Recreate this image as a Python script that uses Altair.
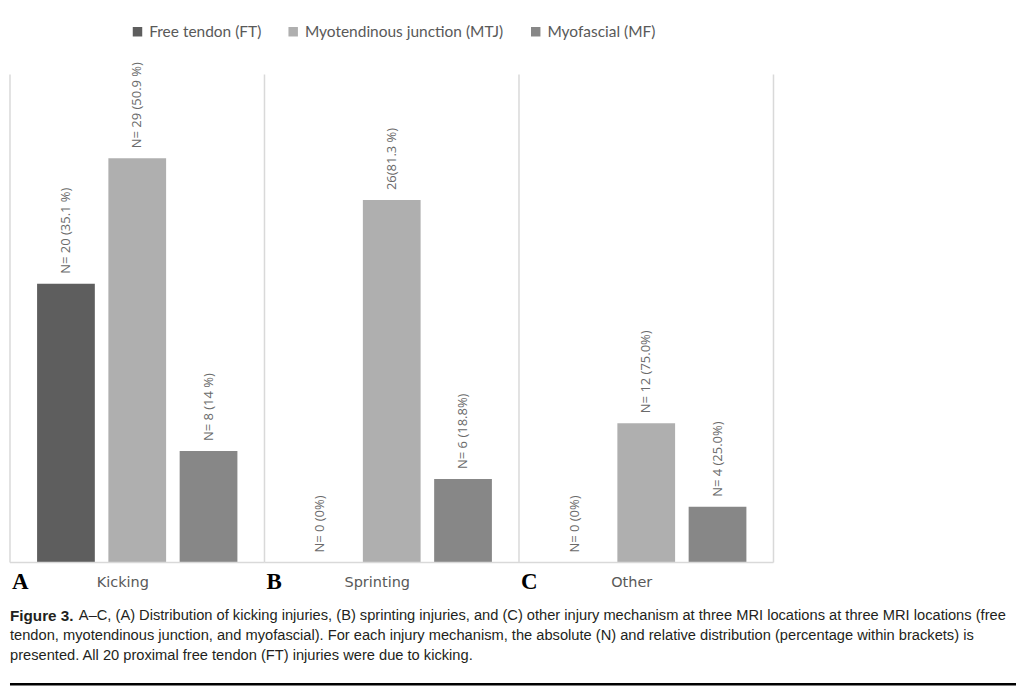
import altair as alt
import pandas as pd

mechanisms = ["Kicking", "Sprinting", "Other"]
panel_letters = ["A", "B", "C"]
locations = ["Free tendon (FT)", "Myotendinous junction (MTJ)", "Myofascial (MF)"]
loc_colors = ["#5e5e5e", "#afafaf", "#878787"]

# bar heights as drawn, one list per mechanism (FT, MTJ, MF)
kicking_n = [20, 29, 8]
sprinting_n = [0, 26, 6]
other_n = [0, 10, 4]

kicking_lbl = ["N= 20 (35.1 %)", "N= 29 (50.9 %)", "N= 8 (14 %)"]
sprinting_lbl = ["N= 0 (0%)", "26(81.3 %)", "N= 6 (18.8%)"]
other_lbl = ["N= 0 (0%)", "N= 12 (75.0%)", "N= 4 (25.0%)"]

caption_bold = "Figure 3."
caption_first = ("A\u2013C, (A) Distribution of kicking injuries, (B) sprinting injuries, and (C) other "
                 "injury mechanism at three MRI locations at three MRI locations (free")
caption_rest = [
    "tendon, myotendinous junction, and myofascial). For each injury mechanism, the absolute (N) "
    "and relative distribution (percentage within brackets) is",
    "presented. All 20 proximal free tendon (FT) injuries were due to kicking.",
]

W = 255
H = 489
GRID = "#d9d9d9"
TXT = "#595959"
CAP = 14.7

rows = []
for mech, letter, vals, lbls in zip(
    mechanisms, panel_letters,
    [kicking_n, sprinting_n, other_n],
    [kicking_lbl, sprinting_lbl, other_lbl],
):
    for loc, v, l in zip(locations, vals, lbls):
        rows.append({"mechanism": mech, "letter": letter, "location": loc, "n": v, "label": l})
df = pd.DataFrame(rows)

x_enc = alt.X("location:N", sort=locations, axis=None,
              scale=alt.Scale(paddingInner=0.19, paddingOuter=0.38))
y_enc = alt.Y("n:Q", axis=None, scale=alt.Scale(domain=[0, 35], nice=False))

base = alt.Chart()

bars = base.mark_bar().encode(
    x=x_enc,
    y=y_enc,
    color=alt.Color(
        "location:N",
        sort=locations,
        scale=alt.Scale(domain=locations, range=loc_colors),
        legend=alt.Legend(
            title=None, orient="none", direction="horizontal", columns=3,
            legendX=120, legendY=-51, padding=0,
            symbolType="square", symbolSize=90, symbolStrokeWidth=0,
            labelFont="Lato", labelFontSize=15.5, labelColor=TXT,
            columnPadding=24, labelOffset=4, labelLimit=400,
        ),
    ),
)

values = base.mark_text(
    angle=270, align="left", baseline="middle", dx=10,
    font="Open Sans", fontSize=13, color="#6a6a6a",
).encode(x=x_enc, y=y_enc, text="label:N")

first = base.transform_filter(alt.datum.location == locations[0])

left_rule = first.mark_rule(color=GRID, strokeWidth=1.5).encode(
    x=alt.value(0), y=alt.value(0), y2=alt.value(H))
bottom_rule = first.mark_rule(color=GRID, strokeWidth=1.5).encode(
    x=alt.value(0), x2=alt.value(W), y=alt.value(H))
right_rule = first.transform_filter(alt.datum.mechanism == "Other").mark_rule(
    color=GRID, strokeWidth=1.5).encode(x=alt.value(W), y=alt.value(0), y2=alt.value(H))

letter_txt = first.mark_text(
    align="left", baseline="middle", font="Liberation Serif", fontWeight="bold",
    fontSize=23, color="#000000",
).encode(x=alt.value(2), y=alt.value(H + 19), text="letter:N")

mech_txt = first.mark_text(
    align="center", baseline="middle", font="DejaVu Sans", fontSize=14.5, color=TXT,
).encode(x=alt.value(113), y=alt.value(H + 20), text="mechanism:N")

cap = first.transform_filter(alt.datum.mechanism == "Kicking")
cap_bold = cap.mark_text(
    align="left", baseline="middle", font="Liberation Sans", fontWeight="bold",
    fontSize=15.3, color="#231f20", text=caption_bold,
).encode(x=alt.value(0), y=alt.value(H + 54))
cap_first = cap.mark_text(
    align="left", baseline="middle", font="Liberation Sans",
    fontSize=CAP, color="#231f20", text=caption_first,
).encode(x=alt.value(69), y=alt.value(H + 54))
cap_rest = cap.mark_text(
    align="left", baseline="middle", font="Liberation Sans", lineHeight=20,
    fontSize=CAP, color="#231f20", text=caption_rest,
).encode(x=alt.value(0), y=alt.value(H + 74))
cap_line = cap.mark_rule(color="#000000", strokeWidth=2.5).encode(
    x=alt.value(0), x2=alt.value(1008), y=alt.value(H + 122))

chart = (
    alt.layer(bars, values, left_rule, bottom_rule, right_rule, letter_txt, mech_txt,
              cap_bold, cap_first, cap_rest, cap_line)
    .properties(width=W, height=H)
    .facet(
        column=alt.Column("mechanism:N", sort=mechanisms, header=None),
        data=df,
        spacing=0,
        bounds="flush",
    )
    .properties(padding={"left": 0, "right": 0, "top": 15, "bottom": 3})
    .configure_view(stroke=None)
)

chart.save("out.html", embed_options={"renderer": "svg", "actions": False})
